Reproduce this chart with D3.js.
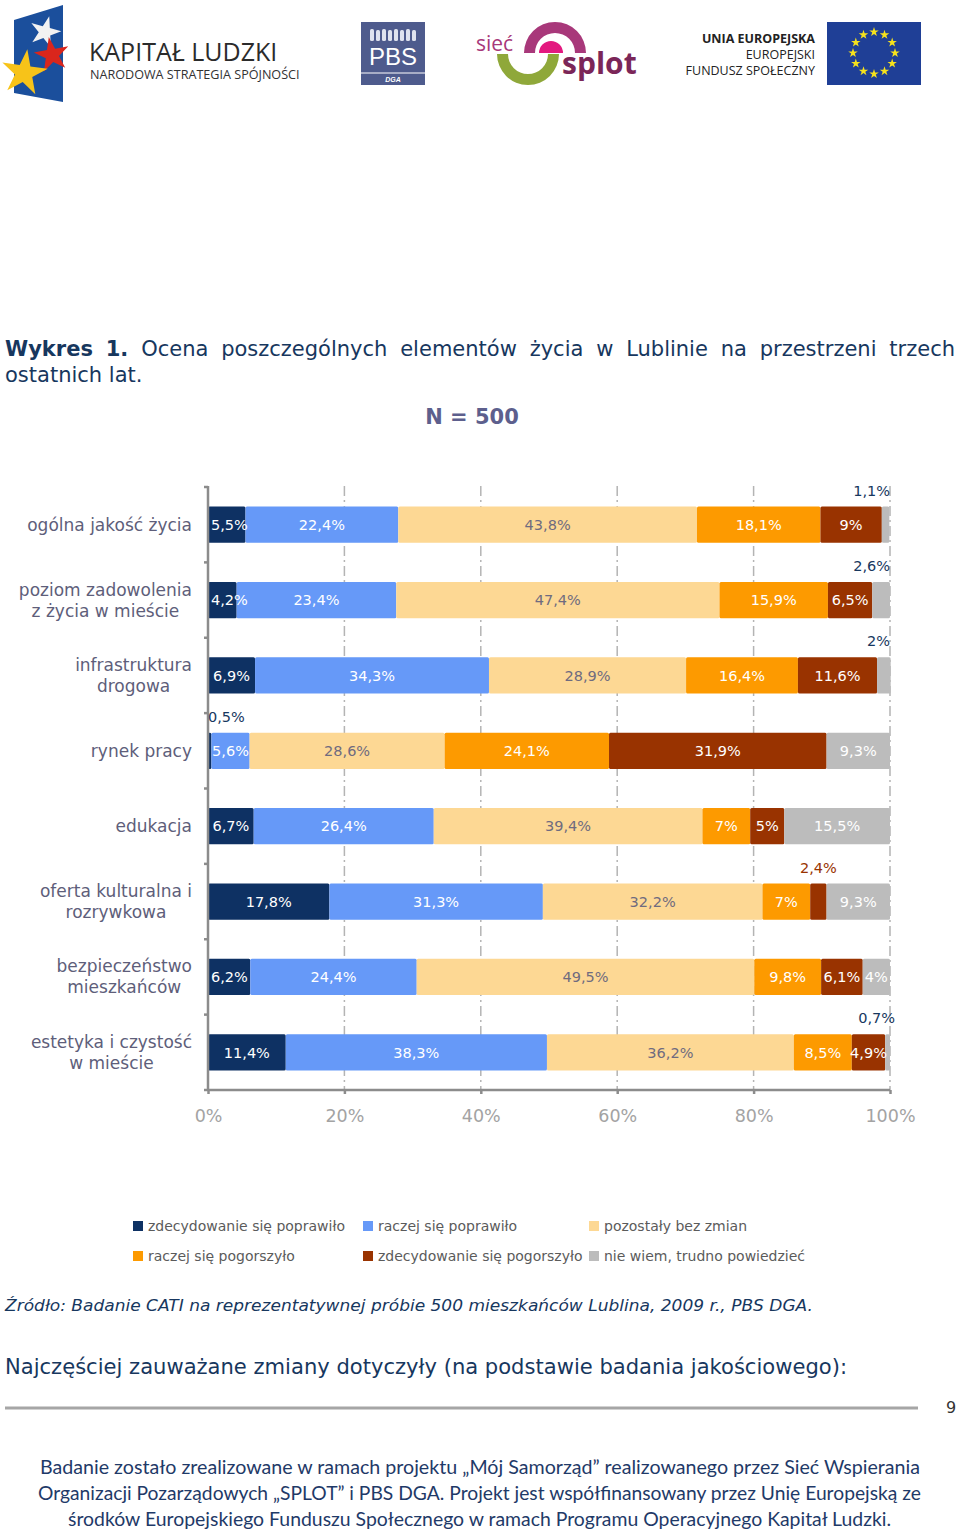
<!DOCTYPE html>
<html><head><meta charset="utf-8">
<script src="https://cdn.jsdelivr.net/npm/d3@7"></script>
<style>
html,body{margin:0;padding:0;background:#fff;}
svg{display:block;}
</style></head>
<body>
<svg id="page" width="960" height="1532"></svg>
<script>
// ---------- DATA ----------
const categories = [
  "ogólna jakość życia",
  "poziom zadowolenia\nz życia w mieście",
  "infrastruktura\ndrogowa",
  "rynek pracy",
  "edukacja",
  "oferta kulturalna i\nrozrywkowa",
  "bezpieczeństwo\nmieszkańców",
  "estetyka i czystość\nw mieście"
];
const seriesNames = [
  "zdecydowanie się poprawiło",
  "raczej się poprawiło",
  "pozostały bez zmian",
  "raczej się pogorszyło",
  "zdecydowanie się pogorszyło",
  "nie wiem, trudno powiedzieć"
];
const zdecPoprawilo   = [5.5, 4.2, 6.9, 0.5, 6.7, 17.8, 6.2, 11.4];
const raczejPoprawilo = [22.4, 23.4, 34.3, 5.6, 26.4, 31.3, 24.4, 38.3];
const bezZmian        = [43.8, 47.4, 28.9, 28.6, 39.4, 32.2, 49.5, 36.2];
const raczejPogorszylo= [18.1, 15.9, 16.4, 24.1, 7, 7, 9.8, 8.5];
const zdecPogorszylo  = [9, 6.5, 11.6, 31.9, 5, 2.4, 6.1, 4.9];
const nieWiem         = [1.1, 2.6, 2, 9.3, 15.5, 9.3, 4, 0.7];
const xTicks = [0, 20, 40, 60, 80, 100];

const colors = ["#0e3163", "#6699f8", "#fdd894", "#fd9a00", "#993300", "#bcbcbc"];

const seriesValues = [zdecPoprawilo, raczejPoprawilo, bezZmian, raczejPogorszylo, zdecPogorszylo, nieWiem];
const table = categories.map((c, i) => {
  const o = {cat: c};
  seriesNames.forEach((s, j) => o[s] = seriesValues[j][i]);
  return o;
});

const svg = d3.select("#page");
const NAVY = "#17375e";

// ---------- LOGOS ----------
const logos = svg.append("g");
logos.append("path").attr("d", "M14,20 L63,5 L63,102 L14,93 Z").attr("fill", "#1b4f9c");
const star = d3.symbol().type(d3.symbolStar);
logos.append("path").attr("d", star.size(300)()).attr("transform", "translate(45,32) rotate(15)").attr("fill", "#f2f2f2");
logos.append("path").attr("d", star.size(380)()).attr("transform", "translate(52,55) rotate(-10)").attr("fill", "#d9261c");
logos.append("path").attr("d", star.size(650)()).attr("transform", "translate(24,73) rotate(8)").attr("fill", "#f7c319");
logos.append("text").attr("x", 89).attr("y", 61).attr("font-family", "Open Sans").attr("font-size", 25).attr("fill", "#2b2b2b").text("KAPITAŁ LUDZKI");
logos.append("text").attr("x", 90).attr("y", 79).attr("font-family", "Open Sans").attr("font-size", 12.6).attr("fill", "#333").text("NARODOWA STRATEGIA SPÓJNOŚCI");
// PBS
logos.append("rect").attr("x", 361).attr("y", 22).attr("width", 64).attr("height", 63).attr("fill", "#4e5b8d");
logos.append("line").attr("x1", 361).attr("x2", 425).attr("y1", 73).attr("y2", 73).attr("stroke", "#fff").attr("stroke-width", 1);
for (let k = 0; k < 8; k++) {
  logos.append("rect").attr("x", 370 + k * 6).attr("y", 29 + (k % 2)).attr("width", 4).attr("height", 12 - (k % 2)).attr("rx", 1.5).attr("fill", "#dfe3ef");
}
logos.append("text").attr("x", 393).attr("y", 65).attr("text-anchor", "middle").attr("font-family", "Liberation Sans").attr("font-size", 24).attr("fill", "#fff").text("PBS");
logos.append("text").attr("x", 393).attr("y", 82).attr("text-anchor", "middle").attr("font-family", "Liberation Sans").attr("font-weight", "bold").attr("font-style", "italic").attr("font-size", 7).attr("fill", "#fff").text("DGA");
// Sieć Splot
const arc = d3.arc();
logos.append("path").attr("d", arc({innerRadius: 20, outerRadius: 31, startAngle: -Math.PI / 2, endAngle: Math.PI / 2})).attr("transform", "translate(555,53)").attr("fill", "#a8387a");
logos.append("path").attr("d", arc({innerRadius: 0, outerRadius: 12, startAngle: -Math.PI / 2, endAngle: Math.PI / 2})).attr("transform", "translate(551,53)").attr("fill", "#e3197f");
logos.append("path").attr("d", arc({innerRadius: 20, outerRadius: 31, startAngle: Math.PI / 2, endAngle: 3 * Math.PI / 2})).attr("transform", "translate(528,54)").attr("fill", "#8fa83a");
logos.append("text").attr("x", 476).attr("y", 51).attr("font-family", "Open Sans").attr("font-size", 21).attr("fill", "#a8387a").text("sieć");
logos.append("text").attr("x", 562).attr("y", 74).attr("font-family", "Open Sans").attr("font-weight", "bold").attr("font-size", 30).attr("fill", "#7b2658").text("splot");
// UE
logos.append("text").attr("x", 815).attr("y", 43).attr("text-anchor", "end").attr("font-family", "Open Sans").attr("font-weight", "bold").attr("font-size", 12.5).attr("fill", "#222").text("UNIA EUROPEJSKA");
logos.append("text").attr("x", 815).attr("y", 59).attr("text-anchor", "end").attr("font-family", "Open Sans").attr("font-size", 12.5).attr("fill", "#222").text("EUROPEJSKI");
logos.append("text").attr("x", 815).attr("y", 75).attr("text-anchor", "end").attr("font-family", "Open Sans").attr("font-size", 12.5).attr("fill", "#222").text("FUNDUSZ SPOŁECZNY");
logos.append("rect").attr("x", 827).attr("y", 22).attr("width", 94).attr("height", 63).attr("fill", "#1f3f96");
for (let k = 0; k < 12; k++) {
  const a = k / 12 * 2 * Math.PI;
  logos.append("path").attr("d", star.size(28)()).attr("transform", `translate(${874 + 21 * Math.sin(a)},${53 - 21 * Math.cos(a)})`).attr("fill", "#f6e21c");
}

// ---------- TITLE (justified first line) ----------
const titleWords = ["Wykres", "1.", "Ocena", "poszczególnych", "elementów", "życia", "w", "Lublinie", "na", "przestrzeni", "trzech"];
const tg = svg.append("g").attr("font-family", "DejaVu Sans").attr("font-size", 21).attr("fill", NAVY);
const wNodes = titleWords.map((w, i) => tg.append("text").attr("y", 356).attr("font-weight", i < 2 ? "bold" : "normal").text(w));
const widths = wNodes.map(n => n.node().getComputedTextLength());
const totalW = d3.sum(widths);
const gap = (955 - 5 - totalW) / (titleWords.length - 1);
let cx = 5;
wNodes.forEach((n, i) => { n.attr("x", cx); cx += widths[i] + gap; });
tg.append("text").attr("x", 5).attr("y", 382).text("ostatnich lat.");

svg.append("text").attr("x", 472).attr("y", 424).attr("text-anchor", "middle").attr("font-family", "DejaVu Sans").attr("font-weight", "bold").attr("font-size", 21).attr("fill", "#5d5f8d").text("N = 500");

// ---------- CHART ----------
const x = d3.scaleLinear().domain([0, 100]).range([208, 890]);
const y = d3.scaleBand().domain(categories).range([487, 1090]).paddingInner(0.52).paddingOuter(0.26);

const chart = svg.append("g");
// grid
chart.append("g").selectAll("line").data(xTicks.filter(t => t > 0)).join("line")
  .attr("x1", d => x(d)).attr("x2", d => x(d)).attr("y1", 486).attr("y2", 1090)
  .attr("stroke", "#b4b4b4").attr("stroke-width", 1.5).attr("stroke-dasharray", "10,4,2,4");

// bars
const stack = d3.stack().keys(seriesNames)(table);
const fmt = v => String(v).replace(".", ",") + "%";
stack.forEach((layer, si) => {
  const g = chart.append("g");
  g.selectAll("rect").data(layer).join("rect")
    .attr("x", d => x(d[0])).attr("y", d => y(d.data.cat))
    .attr("width", d => Math.max(0, x(d[1]) - x(d[0]))).attr("height", y.bandwidth())
    .attr("rx", 1.5).attr("fill", colors[si]);
});

// y axis line + boundary ticks
chart.append("line").attr("x1", 208).attr("x2", 208).attr("y1", 486).attr("y2", 1091).attr("stroke", "#8c8c8c").attr("stroke-width", 2.5);
chart.append("g").selectAll("line").data(d3.range(categories.length + 1)).join("line")
  .attr("x1", 204).attr("x2", 208).attr("y1", i => 487 + i * y.step()).attr("y2", i => 487 + i * y.step())
  .attr("stroke", "#8c8c8c").attr("stroke-width", 2.5);

// labels
stack.forEach((layer, si) => {
  const g = chart.append("g").attr("font-family", "DejaVu Sans").attr("font-size", 14.5);
  layer.forEach(d => {
    const val = seriesValues[si][categories.indexOf(d.data.cat)];
    const mid = (x(d[0]) + x(d[1])) / 2;
    const cy = y(d.data.cat) + y.bandwidth() / 2;
    if (val < 3) {
      let anchor = "middle", tx = mid;
      if (mid < 250) { anchor = "start"; tx = x(0); }
      else if (mid > 870) { anchor = "end"; tx = x(100) + (val < 1 ? 5 : 0); }
      g.append("text").attr("x", tx).attr("y", y(d.data.cat) - 16).attr("dy", "0.35em")
        .attr("text-anchor", anchor).attr("fill", si === 4 ? "#993300" : NAVY).text(fmt(val));
    } else {
      const t = g.append("text").attr("x", mid).attr("y", cy).attr("dy", "0.36em")
        .attr("text-anchor", "middle").attr("fill", si === 2 ? "#6f6b7f" : "#ffffff").text(fmt(val));
      const w = t.node().getComputedTextLength();
      if (mid - w / 2 < x(0) + 3) t.attr("x", x(0) + 3 + w / 2);
    }
  });
});

// x axis
const xAxis = chart.append("g").attr("transform", "translate(0,1090)")
  .call(d3.axisBottom(x).tickValues(xTicks).tickFormat(d => d + "%").tickSize(4).tickPadding(16));
xAxis.select(".domain").attr("stroke", "#8c8c8c").attr("stroke-width", 2.5).attr("d", "M208,0H890");
xAxis.selectAll(".tick line").attr("stroke", "#8c8c8c").attr("stroke-width", 2.5);
xAxis.selectAll(".tick text").attr("font-family", "DejaVu Sans").attr("font-size", 17.5).attr("fill", "#a3a3a3");

// category labels
const catG = chart.append("g").attr("font-family", "DejaVu Sans").attr("font-size", 17).attr("fill", "#5e5e7a");
categories.forEach(c => {
  const lines = c.split("\n");
  const cy = y(c) + y.bandwidth() / 2;
  const t = catG.append("text").attr("text-anchor", "middle");
  lines.forEach((ln, i) => {
    t.append("tspan").attr("x", 0).attr("y", cy + (i - (lines.length - 1) / 2) * 21).attr("dy", "0.35em").text(ln);
  });
  const w = t.node().getBBox().width;
  t.selectAll("tspan").attr("x", 192 - w / 2);
});

// ---------- LEGEND ----------
const legendPos = [[133, 1226], [363, 1226], [589, 1226], [133, 1256], [363, 1256], [589, 1256]];
const lg = svg.append("g").attr("font-family", "DejaVu Sans").attr("font-size", 14).attr("fill", "#5b5b5b");
seriesNames.forEach((s, i) => {
  const [lx, ly] = legendPos[i];
  lg.append("rect").attr("x", lx).attr("y", ly - 5).attr("width", 10).attr("height", 10).attr("fill", colors[i]);
  lg.append("text").attr("x", lx + 15).attr("y", ly).attr("dy", "0.35em").text(s);
});

// ---------- TEXT BELOW ----------
svg.append("text").attr("x", 5).attr("y", 1311).attr("font-family", "DejaVu Sans").attr("font-style", "italic").attr("font-size", 16.5)
  .attr("fill", NAVY).attr("textLength", 808).attr("lengthAdjust", "spacingAndGlyphs")
  .text("Źródło: Badanie CATI na reprezentatywnej próbie 500 mieszkańców Lublina, 2009 r., PBS DGA.");
svg.append("text").attr("x", 5).attr("y", 1374).attr("font-family", "DejaVu Sans").attr("font-size", 21)
  .attr("fill", NAVY).attr("textLength", 842).attr("lengthAdjust", "spacingAndGlyphs")
  .text("Najczęściej zauważane zmiany dotyczyły (na podstawie badania jakościowego):");
svg.append("line").attr("x1", 5).attr("x2", 918).attr("y1", 1408).attr("y2", 1408).attr("stroke", "#a6a6a6").attr("stroke-width", 3);
svg.append("text").attr("x", 951).attr("y", 1413).attr("text-anchor", "middle").attr("font-family", "DejaVu Sans").attr("font-size", 16).attr("fill", "#333").text("9");

const footer = [
  ["Badanie zostało zrealizowane w ramach projektu „Mój Samorząd” realizowanego przez Sieć Wspierania", 40, 880, 1474],
  ["Organizacji Pozarządowych „SPLOT” i PBS DGA. Projekt jest współfinansowany przez Unię Europejską ze", 38, 883, 1500],
  ["środków Europejskiego Funduszu Społecznego w ramach Programu Operacyjnego Kapitał Ludzki.", 68, 823, 1526]
];
footer.forEach(([t, fx, fw, fy]) => {
  svg.append("text").attr("x", fx).attr("y", fy).attr("font-family", "Lato").attr("font-size", 18.5)
    .attr("fill", "#1f3a68").attr("textLength", fw).attr("lengthAdjust", "spacingAndGlyphs").text(t);
});
</script>
</body></html>
